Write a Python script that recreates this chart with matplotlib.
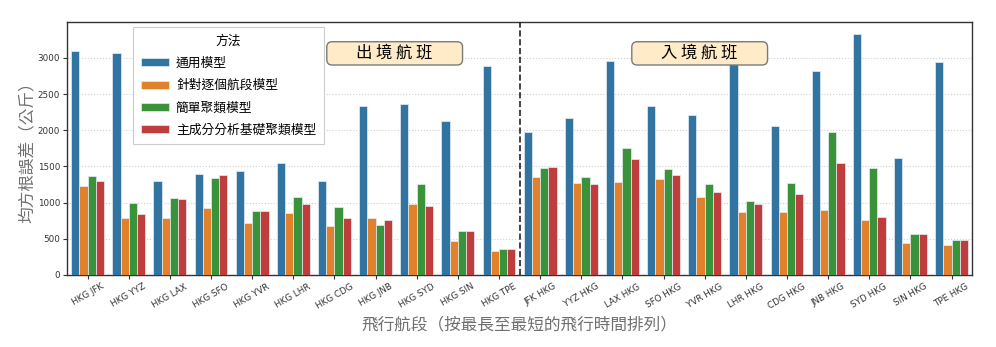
#!/usr/bin/env python3
"""RMSE per flight route for four modelling approaches (outbound vs inbound)."""

import matplotlib.pyplot as plt
import numpy as np
from matplotlib.patches import FancyBboxPatch

plt.rcParams["font.family"] = ["Noto Sans CJK TC", "DejaVu Sans"]

routes = [
    "HKG JFK", "HKG YYZ", "HKG LAX", "HKG SFO", "HKG YVR", "HKG LHR",
    "HKG CDG", "HKG JNB", "HKG SYD", "HKG SIN", "HKG TPE",
    "JFK HKG", "YYZ HKG", "LAX HKG", "SFO HKG", "YVR HKG", "LHR HKG",
    "CDG HKG", "JNB HKG", "SYD HKG", "SIN HKG", "TPE HKG",
]
methods = ["通用模型", "針對逐個航段模型", "簡單聚類模型", "主成分分析基礎聚類模型"]

general = [3100, 3066, 1296, 1393, 1438, 1545, 1304, 2328, 2369, 2130, 2887,
           1982, 2167, 2960, 2337, 2204, 2950, 2061, 2817, 3329, 1623, 2942]
per_route = [1235, 793, 793, 922, 715, 853, 678, 784, 982, 474, 327,
             1351, 1268, 1282, 1323, 1075, 871, 876, 895, 757, 447, 419]
simple_cluster = [1369, 992, 1065, 1337, 881, 1075, 945, 687, 1259, 604, 355,
                  1476, 1351, 1761, 1462, 1254, 1019, 1268, 1982, 1480, 567, 484]
pca_cluster = [1304, 840, 1051, 1383, 889, 978, 784, 765, 959, 604, 355,
               1489, 1254, 1609, 1383, 1143, 978, 1116, 1545, 798, 567, 484]

n_outbound = 11
colors = ["#3274a1", "#e1812c", "#3a923a", "#c03d3e"]


def add_label_box(ax, text, x0, x1, y0, y1):
    """Rounded cream label box in axes coordinates."""
    aspect = ax.bbox.width / ax.bbox.height
    box = FancyBboxPatch(
        (x0, y0), x1 - x0, y1 - y0,
        boxstyle="round,pad=0,rounding_size=0.006",
        mutation_aspect=aspect,
        transform=ax.transAxes,
        facecolor="#ffebc8", edgecolor="#7a7a7a", linewidth=1.0, zorder=5,
    )
    ax.add_patch(box)
    ax.text((x0 + x1) / 2, (y0 + y1) / 2, text, transform=ax.transAxes,
            ha="center", va="center", fontsize=11.8, zorder=6)


def main():
    fig = plt.figure(figsize=(9.96, 3.47), dpi=100)
    ax = fig.add_axes([0.0673, 0.2075, 0.9087, 0.7291])

    x = np.arange(len(routes))
    width = 0.2
    series = [general, per_route, simple_cluster, pca_cluster]
    for i, (vals, name, c) in enumerate(zip(series, methods, colors)):
        ax.bar(x + (i - 1.5) * width, vals, width=width, color=c, label=name,
               edgecolor="#e6eef3", linewidth=0.5, zorder=3)

    ax.axvline(n_outbound - 0.5, color="#222222", linestyle="--",
               linewidth=1.2, zorder=4)

    ax.set_xlim(-0.5, len(routes) - 0.5)
    ax.set_xticks(x)
    ax.set_xticklabels(routes, rotation=30, ha="center", fontsize=6.3,
                       family="DejaVu Sans", color="#333333")
    ax.tick_params(axis="y", labelsize=6.3, labelcolor="#333333")
    for lab in ax.get_yticklabels():
        lab.set_family("DejaVu Sans")
    ax.tick_params(axis="both", length=3, width=0.8, color="#333333", pad=2)
    ax.grid(axis="y", color="#d0d0d0", linestyle=":", linewidth=0.8, zorder=0)
    for sp in ax.spines.values():
        sp.set_color("#333333")
        sp.set_linewidth(1.0)

    ax.set_ylabel("均方根誤差（公斤）", fontsize=12, color="#707070",
                  labelpad=1)
    ax.set_xlabel("飛行航段（按最長至最短的飛行時間排列）", fontsize=12,
                  color="#707070", labelpad=4)

    leg = ax.legend(title="方法", loc="upper left",
                    bbox_to_anchor=(0.073, 0.98), borderaxespad=0,
                    fontsize=9.2, title_fontsize=9.2, fancybox=False,
                    framealpha=1.0, edgecolor="#cccccc",
                    handlelength=2.2, handleheight=0.6, labelspacing=0.72,
                    handletextpad=0.55, borderpad=0.6)
    leg.get_frame().set_linewidth(0.8)
    leg.set_zorder(7)

    add_label_box(ax, "出 境 航 班", 0.287, 0.437, 0.830, 0.922)
    add_label_box(ax, "入 境 航 班", 0.624, 0.774, 0.830, 0.922)

    fig.savefig("out.png", dpi=100)
    plt.close(fig)


if __name__ == "__main__":
    main()
